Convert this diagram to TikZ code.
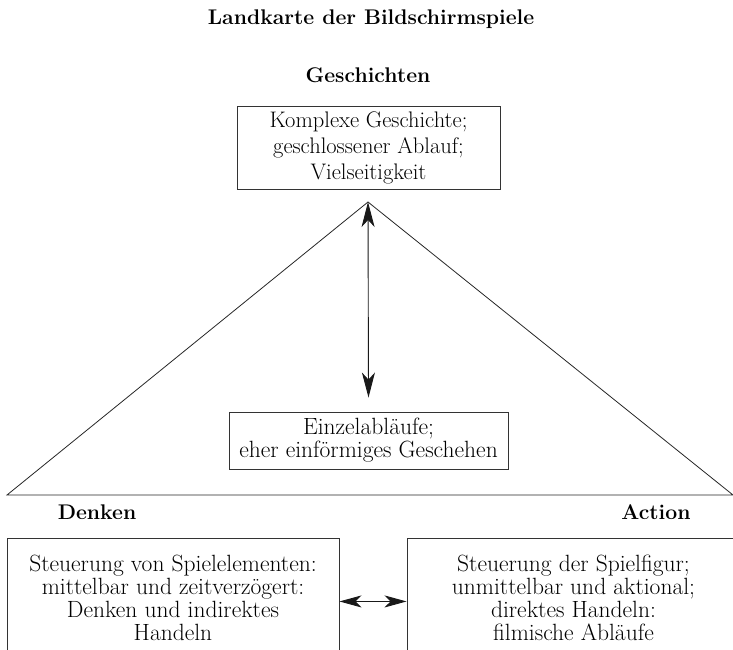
\documentclass[tikz,border=0pt]{standalone}
\usepackage{fontspec}
\usetikzlibrary{arrows.meta}
\begin{document}
\begin{tikzpicture}[x=1pt,y=-1pt,
  box/.style={draw=black!80, line width=0.9pt, inner sep=0pt, align=center},
  body/.style={font=\fontsize{23.5}{23}\selectfont, align=center},
  lbl/.style={font=\fontsize{21.2}{24}\selectfont\bfseries},
  dblv/.style={{Stealth[length=25pt,width=13pt,inset=7pt]}-{Stealth[length=25pt,width=13pt,inset=7pt]}, line width=0.9pt, black!90},
  dblh/.style={{Stealth[length=22pt,width=12pt,inset=6pt]}-{Stealth[length=22pt,width=12pt,inset=6pt]}, line width=0.9pt, black!90}]
\useasboundingbox (0,0) rectangle (733,650);
\clip (0,0) rectangle (733,650);
\node[lbl] (title) at (371,19) {Landkarte der Bildschirmspiele};
\node[lbl] (gesch) at (368,75) {Geschichten};
\node[box, body, font=\fontsize{22.5}{26}\selectfont, minimum width=263pt, minimum height=83pt] (top) at (368.5,147.5) {Komplexe Geschichte;\\ geschlossener Ablauf;\\ Vielseitigkeit};
\coordinate (apex) at (368,202);
\coordinate (bl) at (7,495);
\coordinate (br) at (733,495);
\draw[line width=0.8pt, black!85] (bl) -- (apex) -- (br) -- cycle;
\node[box, body, minimum width=279pt, minimum height=57pt] (einz) at (368.5,440.5) {Einzelabläufe;\\ eher einförmiges Geschehen};
\draw[dblv] (apex) -- ([yshift=14pt]einz.north);
\node[lbl] (denken) at (97,512) {Denken};
\node[lbl] (action) at (656,512) {Action};
\node[box, body, anchor=north, minimum width=332pt, minimum height=118pt] (lbox) at (173,538) {Steuerung von Spielelementen:\\ mittelbar und zeitverzögert:\\ Denken und indirektes\\ Handeln};
\node[box, body, anchor=north, minimum width=333pt, minimum height=118pt] (rbox) at (573.5,538) {Steuerung der Spielfigur;\\ unmittelbar und aktional;\\ direktes Handeln:\\ filmische Abläufe};
\draw[dblh] ([yshift=-4pt]lbox.east) -- ([yshift=-4pt]rbox.west);
\end{tikzpicture}
\end{document}
